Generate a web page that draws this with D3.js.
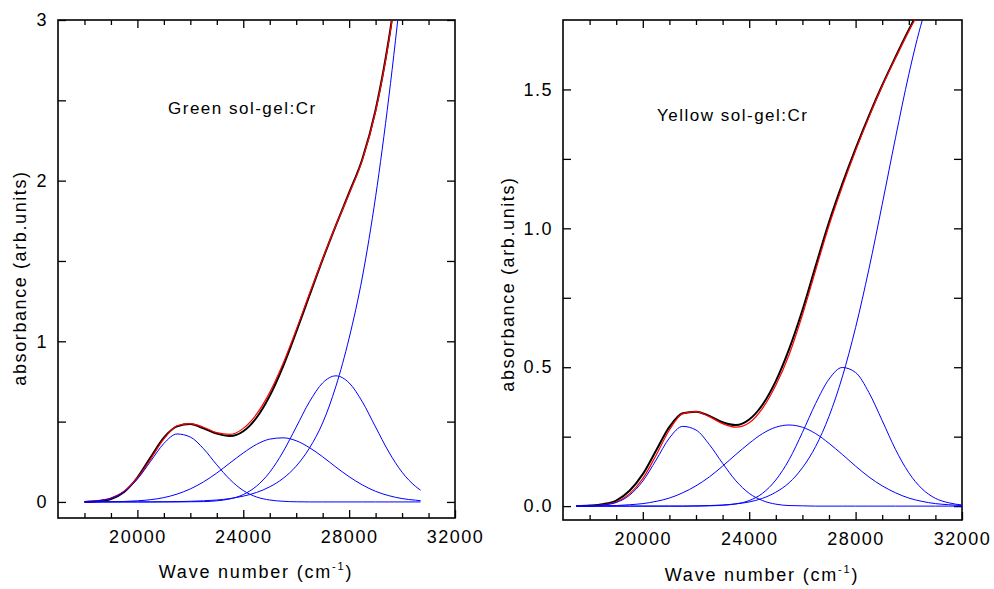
<!DOCTYPE html>
<html>
<head>
<meta charset="utf-8">
<script src="https://cdn.jsdelivr.net/npm/d3@7"></script>
<style>
    body { margin: 0; background: #fff; }
    svg { display: block; font-family: "Liberation Sans", Arial, Helvetica, sans-serif; }
    .tick line { stroke: #000; stroke-width: 1.3; }
    .tick text { font-size: 18px; letter-spacing: 1.5px; fill: #000; }
    .line { fill: none; }
</style>
</head>
<body>
<svg id="chart" width="994" height="589"></svg>
<script>
// Green sol-gel:Cr — wave numbers (cm-1) and absorbance
const waveGreen = [18000, 18500, 19000, 19500, 20000, 20500, 21000, 21500, 22000, 22500, 23000, 23500, 24000,
    24500, 25000, 25500, 26000, 26500, 27000, 27500, 28000, 28500, 29000, 29500, 30000, 30500, 30700];
const greenMeasured = [0.000, 0.004, 0.018, 0.062, 0.152, 0.278, 0.400, 0.470, 0.485, 0.458, 0.425, 0.410, 0.440,
    0.524, 0.660, 0.842, 1.058, 1.285, 1.510, 1.722, 1.925, 2.135, 2.440, 2.880, 3.46, null, null];
const greenFit = [0.002, 0.008, 0.024, 0.067, 0.149, 0.267, 0.392, 0.474, 0.488, 0.465, 0.431, 0.420, 0.458,
    0.546, 0.682, 0.860, 1.071, 1.296, 1.514, 1.722, 1.918, 2.129, 2.432, 2.870, 3.456, null, null];
const greenBand1 = [0.002, 0.007, 0.023, 0.064, 0.142, 0.253, 0.364, 0.423, 0.404, 0.331, 0.231, 0.139, 0.071,
    0.031, 0.012, 0.004, 0.001, 0, 0, 0, 0, 0, 0, 0, 0, 0, 0];
const greenBand2 = [0.000, 0.001, 0.001, 0.003, 0.007, 0.014, 0.027, 0.049, 0.081, 0.125, 0.180, 0.243, 0.305,
    0.358, 0.391, 0.399, 0.381, 0.338, 0.281, 0.217, 0.157, 0.106, 0.066, 0.039, 0.021, 0.011, 0.008];
const greenBand3 = [0, 0, 0, 0, 0, 0, 0, 0, 0.001, 0.002, 0.007, 0.019, 0.046,
    0.098, 0.185, 0.311, 0.466, 0.623, 0.741, 0.785, 0.741, 0.623, 0.466, 0.311, 0.185, 0.098, 0.073];
const greenBand4 = [0, 0, 0, 0, 0, 0, 0.001, 0.002, 0.004, 0.007, 0.012, 0.021, 0.036,
    0.059, 0.094, 0.146, 0.223, 0.335, 0.492, 0.72, 1.02, 1.40, 1.90, 2.52, 3.25, 4.1, 4.5];

// Yellow sol-gel:Cr
const waveYellow = [17500, 18000, 18500, 19000, 19500, 20000, 20500, 21000, 21500, 22000, 22500, 23000, 23500,
    24000, 24500, 25000, 25500, 26000, 26500, 27000, 27500, 28000, 28500, 29000, 29500, 30000, 30500, 31000, 31500, 32000];
const yellowMeasured = [0.000, 0.002, 0.007, 0.020, 0.055, 0.115, 0.200, 0.285, 0.334, 0.340, 0.325, 0.302, 0.292,
    0.312, 0.365, 0.450, 0.565, 0.705, 0.865, 1.022, 1.160, 1.287, 1.405, 1.515, 1.617, 1.715, 1.806, null, null, null];
const yellowFit = [0.000, 0.001, 0.005, 0.015, 0.044, 0.099, 0.183, 0.274, 0.333, 0.340, 0.322, 0.297, 0.284,
    0.300, 0.352, 0.435, 0.545, 0.688, 0.850, 1.010, 1.150, 1.280, 1.400, 1.512, 1.613, 1.710, 1.800, null, null, null];
const yellowBand1 = [0.000, 0.001, 0.004, 0.013, 0.039, 0.090, 0.166, 0.245, 0.287, 0.274, 0.222, 0.154, 0.091,
    0.046, 0.020, 0.007, 0.002, 0.001, 0, 0, 0, 0, 0, 0, 0, 0, 0, 0, 0, 0];
const yellowBand2 = [0.000, 0.000, 0.001, 0.002, 0.005, 0.009, 0.017, 0.029, 0.048, 0.073, 0.105, 0.144, 0.186,
    0.226, 0.261, 0.284, 0.292, 0.284, 0.261, 0.226, 0.186, 0.144, 0.105, 0.073, 0.048, 0.029, 0.017, 0.009, 0.005, 0.002];
const yellowBand3 = [0, 0, 0, 0, 0, 0, 0, 0, 0, 0, 0.001, 0.003, 0.008,
    0.020, 0.046, 0.094, 0.167, 0.265, 0.370, 0.457, 0.499, 0.481, 0.409, 0.308, 0.204, 0.120, 0.062, 0.028, 0.012, 0.004];
const yellowBand4 = [0, 0, 0, 0, 0, 0, 0, 0, 0, 0.001, 0.002, 0.004, 0.008,
    0.015, 0.028, 0.050, 0.084, 0.138, 0.215, 0.323, 0.465, 0.643, 0.853, 1.086, 1.326, 1.554, 1.747, 1.885, 1.951, 1.939];

const xMajor = [20000, 24000, 28000, 32000];
const xMinor = [18000, 19000, 21000, 22000, 23000, 25000, 26000, 27000, 29000, 30000, 31000];

const svg = d3.select('#chart');

function drawPanel(p) {
    const x = d3.scaleLinear().domain([17000, 32000]).range([p.left, p.right]);
    const y = d3.scaleLinear().domain(p.yDomain).range([p.bottom, p.top]);
    const g = svg.append('g');

    g.append('clipPath').attr('id', p.id + '-clip')
        .append('rect')
        .attr('x', p.left).attr('y', p.top)
        .attr('width', p.right - p.left).attr('height', p.bottom - p.top);

    const noDomain = s => s.select('.domain').remove();

    // bottom axis with labels, ticks pointing inward
    g.append('g').attr('transform', `translate(0,${p.bottom})`)
        .call(d3.axisBottom(x).tickValues(xMajor).tickSize(-8).tickPadding(12).tickFormat(d3.format('d')))
        .call(noDomain);
    g.append('g').attr('transform', `translate(0,${p.bottom})`)
        .call(d3.axisBottom(x).tickValues(xMinor).tickSize(-5).tickFormat(''))
        .call(noDomain);
    g.append('g').attr('transform', `translate(0,${p.top})`)
        .call(d3.axisTop(x).tickValues(xMajor.filter(v => v < 32000)).tickSize(-8).tickFormat(''))
        .call(noDomain);
    g.append('g').attr('transform', `translate(0,${p.top})`)
        .call(d3.axisTop(x).tickValues(xMinor).tickSize(-5).tickFormat(''))
        .call(noDomain);

    g.append('g').attr('transform', `translate(${p.left},0)`)
        .call(d3.axisLeft(y).tickValues(p.yMajor).tickSize(-8).tickPadding(10).tickFormat(d3.format(p.yFormat)))
        .call(noDomain);
    g.append('g').attr('transform', `translate(${p.left},0)`)
        .call(d3.axisLeft(y).tickValues(p.yMinor).tickSize(-8).tickFormat(''))
        .call(noDomain);
    g.append('g').attr('transform', `translate(${p.right},0)`)
        .call(d3.axisRight(y).tickValues(p.yMajor.concat(p.yMinor)).tickSize(-8).tickFormat(''))
        .call(noDomain);

    // frame
    g.append('rect')
        .attr('x', p.left).attr('y', p.top)
        .attr('width', p.right - p.left).attr('height', p.bottom - p.top)
        .attr('fill', 'none').attr('stroke', '#000').attr('stroke-width', 1.6);

    const line = d3.line()
        .defined(d => d[1] != null)
        .x(d => x(d[0]))
        .y(d => y(d[1]))
        .curve(d3.curveMonotoneX);

    const plot = g.append('g').attr('clip-path', `url(#${p.id}-clip)`);
    const series = [
        { values: p.measured, color: '#000000', width: 2 },
        { values: p.fit, color: '#ff0000', width: 1.2 },
        { values: p.bands[0], color: '#0000ff', width: 1 },
        { values: p.bands[1], color: '#0000ff', width: 1 },
        { values: p.bands[2], color: '#0000ff', width: 1 },
        { values: p.bands[3], color: '#0000ff', width: 1 }
    ];
    series.forEach(s => {
        plot.append('path')
            .datum(p.wave.map((w, i) => [w, s.values[i]]))
            .attr('class', 'line')
            .attr('d', line)
            .style('stroke', s.color)
            .style('stroke-width', s.width);
    });

    // sample label
    g.append('text')
        .attr('x', p.labelX).attr('y', p.labelY)
        .style('font-size', '17px').style('letter-spacing', '1.5px')
        .text(p.label);

    // axis titles
    g.append('text')
        .attr('transform', `translate(${p.yTitleX},${p.yTitleY}) rotate(-90)`)
        .attr('text-anchor', 'middle')
        .style('font-size', '18px').style('letter-spacing', '1.6px')
        .text('absorbance (arb.units)');

    const xt = g.append('text')
        .attr('x', p.xTitleX).attr('y', p.xTitleY)
        .attr('text-anchor', 'middle')
        .style('font-size', '18px').style('letter-spacing', '1.8px');
    xt.append('tspan').text('Wave number (cm');
    xt.append('tspan').attr('dy', -8).style('font-size', '11px').text('-1');
    xt.append('tspan').attr('dy', 8).text(')');
}

drawPanel({
    id: 'green', left: 58, right: 455, top: 20, bottom: 518,
    yDomain: [-0.1, 3], yMajor: [0, 1, 2, 3], yMinor: [0.5, 1.5, 2.5], yFormat: 'd',
    wave: waveGreen, measured: greenMeasured, fit: greenFit,
    bands: [greenBand1, greenBand2, greenBand3, greenBand4],
    label: 'Green sol-gel:Cr', labelX: 168, labelY: 114,
    yTitleX: 26, yTitleY: 278, xTitleX: 256, xTitleY: 578
});

drawPanel({
    id: 'yellow', left: 563, right: 962, top: 20, bottom: 520,
    yDomain: [-0.05, 1.75], yMajor: [0, 0.5, 1, 1.5], yMinor: [0.25, 0.75, 1.25], yFormat: '.1f',
    wave: waveYellow, measured: yellowMeasured, fit: yellowFit,
    bands: [yellowBand1, yellowBand2, yellowBand3, yellowBand4],
    label: 'Yellow sol-gel:Cr', labelX: 657, labelY: 121,
    yTitleX: 514, yTitleY: 284, xTitleX: 762, xTitleY: 581
});
</script>
</body>
</html>
